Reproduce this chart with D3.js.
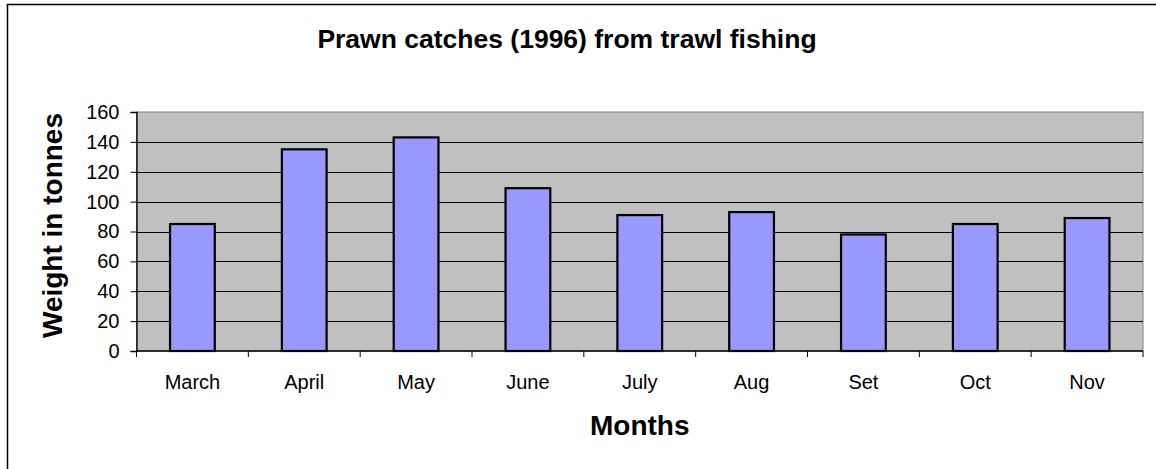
<!DOCTYPE html>
<html>
<head>
<meta charset="utf-8">
<script src="https://cdn.jsdelivr.net/npm/d3@7"></script>
<style>
  html, body { margin: 0; padding: 0; background: #fff; }
  svg { display: block; font-family: "Liberation Sans", Arial, sans-serif; }
</style>
</head>
<body>
<svg id="chart" width="1156" height="469"></svg>
<script>
const months = ["March", "April", "May", "June", "July", "Aug", "Set", "Oct", "Nov"];
const catches = [85, 135, 143, 109, 91, 93, 78, 85, 89];
const yTicks = [0, 20, 40, 60, 80, 100, 120, 140, 160];
const chartTitle = "Prawn catches (1996) from trawl fishing";
const xTitle = "Months";
const yTitle = "Weight in tonnes";

const svg = d3.select("#chart");
const W = 1156, H = 469;
const plot = { left: 136.5, right: 1143, top: 112, bottom: 351 };

// outer chart border
svg.append("rect")
  .attr("x", 7.5).attr("y", 4.5)
  .attr("width", 1160).attr("height", 480)
  .attr("fill", "#fff").attr("stroke", "#000").attr("stroke-width", 1.5);

const x = d3.scaleBand().domain(months).range([plot.left, plot.right]).paddingInner(0.6).paddingOuter(0.3);
const xBand = d3.scaleBand().domain(months).range([plot.left, plot.right]);
const y = d3.scaleLinear().domain([0, 160]).range([plot.bottom, plot.top]);

// plot area
svg.append("rect")
  .attr("x", plot.left).attr("y", plot.top)
  .attr("width", plot.right - plot.left).attr("height", plot.bottom - plot.top)
  .attr("fill", "#C0C0C0").attr("stroke", "#808080").attr("stroke-width", 1);

// gridlines
svg.append("g").selectAll("line").data(yTicks.filter(d => d > 0 && d < 160)).join("line")
  .attr("x1", plot.left).attr("x2", plot.right)
  .attr("y1", d => Math.round(y(d)) + 0.5).attr("y2", d => Math.round(y(d)) + 0.5)
  .attr("stroke", "#000").attr("stroke-width", 1);

// bars
svg.append("g").selectAll("rect").data(months).join("rect")
  .attr("x", (d) => x(d))
  .attr("y", (d, i) => y(catches[i]))
  .attr("width", x.bandwidth())
  .attr("height", (d, i) => y(0) - y(catches[i]))
  .attr("fill", "#9999FF").attr("stroke", "#000").attr("stroke-width", 2.2);

// y axis
const yAxis = d3.axisLeft(y).tickValues(yTicks).tickSize(6).tickPadding(11);
const gy = svg.append("g").attr("transform", `translate(${plot.left},0)`).call(yAxis);
gy.select(".domain").attr("stroke", "#000").attr("stroke-width", 1.3);
gy.selectAll(".tick line").attr("stroke", "#000");
gy.selectAll(".tick text").attr("font-size", 20).attr("fill", "#000")
  .attr("font-family", "'Liberation Sans', Arial, sans-serif");

// x axis with ticks at category boundaries
const gx = svg.append("g").attr("transform", `translate(0,${plot.bottom})`);
gx.append("line").attr("x1", plot.left).attr("x2", plot.right).attr("y1", 0).attr("y2", 0)
  .attr("stroke", "#000").attr("stroke-width", 1.3);
const boundaries = months.map(m => xBand(m)).concat([plot.right]);
gx.selectAll("line.tk").data(boundaries).join("line").attr("class", "tk")
  .attr("x1", d => d).attr("x2", d => d).attr("y1", 0).attr("y2", 6)
  .attr("stroke", "#000");
gx.selectAll("text").data(months).join("text")
  .attr("x", d => xBand(d) + xBand.bandwidth() / 2)
  .attr("y", 38)
  .attr("text-anchor", "middle")
  .attr("font-size", 20).attr("fill", "#000")
  .text(d => d);

// titles
svg.append("text").attr("x", 567).attr("y", 48)
  .attr("text-anchor", "middle").attr("font-size", 26.5).attr("font-weight", "bold")
  .text(chartTitle);
svg.append("text").attr("x", (plot.left + plot.right) / 2).attr("y", 435)
  .attr("text-anchor", "middle").attr("font-size", 28).attr("font-weight", "bold")
  .text(xTitle);
svg.append("text")
  .attr("transform", `translate(62,${(plot.top + plot.bottom) / 2 - 6}) rotate(-90)`)
  .attr("text-anchor", "middle").attr("font-size", 28).attr("font-weight", "bold")
  .text(yTitle);
</script>
</body>
</html>
